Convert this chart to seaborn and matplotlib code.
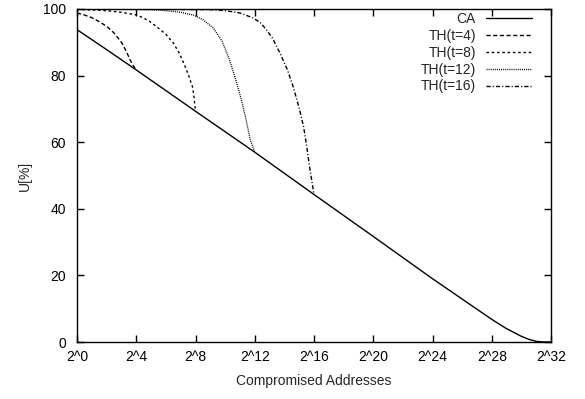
import matplotlib
matplotlib.use("Agg")
import matplotlib.pyplot as plt
import seaborn as sns
import pandas as pd

# exponent of 2 (x axis) and U[%] values
ca_x = [0, 2, 4, 8, 12, 16, 20, 24, 28, 29, 30, 30.5, 31, 31.5, 32]
ca_y = [93.8, 87.8, 81.7, 69.3, 57.0, 44.3, 31.7, 19.0, 6.8, 4.0, 1.7, 0.8, 0.2, 0.0, 0.0]

th4_x = [0, 0.5, 1, 1.5, 2, 2.5, 3, 3.3, 3.6, 3.85, 4]
th4_y = [98.8, 98.2, 97.4, 96.2, 94.8, 92.8, 90.0, 87.5, 84.6, 82.6, 81.7]

th8_x = [0, 2, 3, 4.05, 4.8, 5.4, 6.0, 6.5, 6.9, 7.2, 7.5, 7.8, 7.9, 8]
th8_y = [99.9, 99.5, 99.0, 98.2, 96.6, 94.6, 92.4, 89.8, 86.8, 83.8, 80.5, 76.6, 73.5, 69.3]

th12_x = [0, 5, 6, 7, 7.85, 8.5, 9.2, 9.8, 10.3, 10.7, 11.1, 11.4, 11.7, 12]
th12_y = [100, 99.8, 99.5, 99.0, 98.2, 96.8, 94.3, 90.3, 84.7, 79.0, 72.7, 67.0, 60.7, 57.0]

th16_x = [0, 9, 10, 11, 11.9, 12.4, 12.8, 13.2, 13.7, 14.2, 14.6, 15.0, 15.3, 15.5, 15.7, 16]
th16_y = [100, 99.8, 99.5, 98.8, 97.3, 95.8, 93.7, 91.2, 86.8, 81.8, 76.6, 70.2, 64.6, 59.0, 52.6, 44.3]

labels = ["CA", "TH(t=4)", "TH(t=8)", "TH(t=12)", "TH(t=16)"]
xtick_vals = list(range(0, 33, 4))
xtick_labels = ["2^%d" % k for k in xtick_vals]
ytick_vals = [0, 20, 40, 60, 80, 100]

sns.set_style("ticks")
plt.rcParams["font.family"] = ["Liberation Sans", "DejaVu Sans"]
plt.rcParams["font.size"] = 10

fig = plt.figure(figsize=(5.85, 3.99), dpi=100)
ax = fig.add_axes([77 / 585, 1 - 342 / 399, 474 / 585, 333 / 399])

series = [(ca_x, ca_y), (th4_x, th4_y), (th8_x, th8_y), (th12_x, th12_y), (th16_x, th16_y)]
styles = ["-", (0, (3.0, 1.8)), (0, (1.8, 2.0)), (0, (0.7, 0.8)), (0, (3.0, 1.5, 0.8, 1.5))]

for (xs, ys), lab, ls in zip(series, labels, styles):
    df = pd.DataFrame({"x": xs, "y": ys})
    sns.lineplot(data=df, x="x", y="y", ax=ax, color="black", linewidth=1.0,
                 linestyle=ls, label=lab, errorbar=None)

ax.set_xlim(0, 32)
ax.set_ylim(0, 100)
ax.set_xticks(xtick_vals)
ax.set_xticklabels(xtick_labels)
ax.set_yticks(ytick_vals)
ax.tick_params(direction="in", top=True, right=True, length=5, width=1.0,
               labelsize=10, colors="black")
ax.tick_params(axis="y", pad=8)
ax.tick_params(axis="x", pad=6)
for sp in ax.spines.values():
    sp.set_visible(True)
    sp.set_linewidth(1.0)
    sp.set_color("black")

ax.set_xlabel("Compromised Addresses", fontsize=10, labelpad=7)
ax.set_ylabel("U[%]", fontsize=10, labelpad=8)

leg = ax.legend(loc="upper right", bbox_to_anchor=(0.960, 0.990), frameon=False,
                markerfirst=False, fontsize=10, borderpad=0, borderaxespad=0,
                handlelength=3.3, handletextpad=0.75, labelspacing=0.2)

fig.savefig("out.png", dpi=100)
